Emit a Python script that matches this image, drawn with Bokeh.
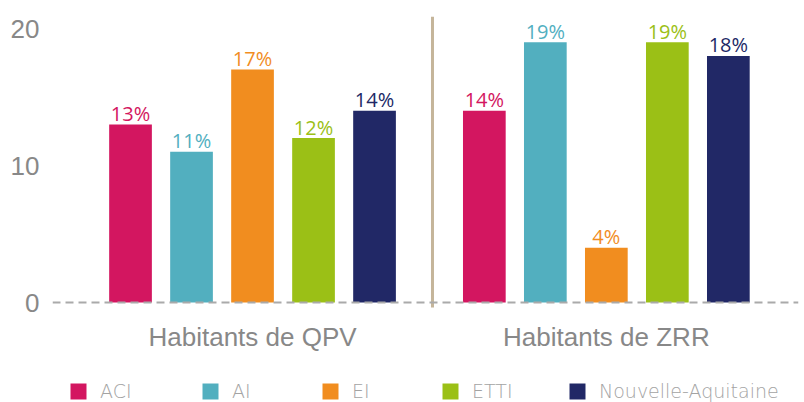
from bokeh.plotting import figure
from bokeh.models import (ColumnDataSource, Range1d, FixedTicker, Span, Legend, LegendItem)
from bokeh.core.properties import value
from bokeh.embed import file_html
from bokeh.resources import INLINE

groups = ["Habitants de QPV", "Habitants de ZRR"]
series = ["ACI", "AI", "EI", "ETTI", "Nouvelle-Aquitaine"]
aci = [13, 14]
ai = [11, 19]
ei = [17, 4]
etti = [12, 19]
nouvelle_aquitaine = [14, 18]
values_by_series = [aci, ai, ei, etti, nouvelle_aquitaine]
colors = ["#D31660", "#52AFBF", "#F18D1F", "#9BC016", "#212866"]
y_ticks = [0, 10, 20]

# layout constants
GROUP_STEP = 5.8  # distance between group starts, in bar slots
BAR_W = 0.70
Y_TOP = 20.876
Y_BOTTOM = -7.299      # frame extends down to hold group labels and legend
PX_PER_Y = 13.7
DIVIDER_BELOW_ZERO_PX = 5
DIVIDER_SHIFT = 0.05
FRAME_LEFT = 52
LEGEND_X_PX = [68, 200, 320, 440, 567]

p = figure(width=804, height=402, output_backend="svg", toolbar_location=None,
           x_range=Range1d(-1.279, 10.95), y_range=Range1d(Y_BOTTOM, Y_TOP),
           min_border_left=FRAME_LEFT, min_border_right=6, min_border_top=16, min_border_bottom=0)
p.outline_line_color = None
p.xgrid.visible = False
p.ygrid.visible = False
p.xaxis.visible = False
p.background_fill_color = "white"

renderers = []
for si, (name, vals, col) in enumerate(zip(series, values_by_series, colors)):
    xs = [gi * GROUP_STEP + si for gi in range(len(groups))]
    src = ColumnDataSource(dict(x=xs, top=vals, lab=[f"{v}%" for v in vals]))
    r = p.vbar(x="x", top="top", width=BAR_W, bottom=0, source=src, color=col, line_color=None)
    p.text(x="x", y="top", text="lab", source=src, text_color=col, text_align="center",
           text_baseline="alphabetic", y_offset=-11, text_font=value("Open Sans"),
           text_font_size="20px", text_font_style="normal")
    renderers.append(r)

# zero line (dashed)
p.add_layout(Span(location=0, dimension="width", line_color="#AAAAAA", line_width=2,
                  line_dash="8 5", level="overlay"))
# divider between groups
div_x = ((len(series) - 1) + GROUP_STEP) / 2 + DIVIDER_SHIFT
p.segment(x0=[div_x], x1=[div_x], y0=[Y_TOP], y1=[-DIVIDER_BELOW_ZERO_PX / PX_PER_Y],
          line_color="#C5B59A", line_width=3)

# group labels under the zero line
centers = [gi * GROUP_STEP + (len(series) - 1) / 2 for gi in range(len(groups))]
gsrc = ColumnDataSource(dict(x=centers, y=[0] * len(groups), t=groups))
p.text(x="x", y="y", text="t", source=gsrc, text_align="center", text_baseline="alphabetic",
       y_offset=34, text_color="#888888", text_font=value("Liberation Sans"),
       text_font_size="26px")

# y axis
p.yaxis.ticker = FixedTicker(ticks=y_ticks)
p.yaxis.axis_line_color = None
p.yaxis.major_tick_line_color = None
p.yaxis.minor_tick_line_color = None
p.yaxis.major_tick_out = 0
p.yaxis.major_label_text_color = "#888888"
p.yaxis.major_label_text_font = "Liberation Sans"
p.yaxis.major_label_text_font_size = "26px"
p.yaxis.major_label_standoff = 13

# one legend per item so that each can sit at its own column
for name, r, lx in zip(series, renderers, LEGEND_X_PX):
    lg = Legend(items=[LegendItem(label=name, renderers=[r])], orientation="horizontal",
                location=(lx - FRAME_LEFT, 0),
                glyph_width=20, glyph_height=20, label_standoff=12,
                spacing=0, padding=0, margin=0, border_line_color=None,
                background_fill_alpha=0, label_text_font="DejaVu Sans Light, DejaVu Sans",
                label_text_font_size="19px", label_text_color="#A3A3A3",
                label_text_baseline="middle")
    p.add_layout(lg)

open("out.html", "w").write(file_html(p, INLINE))
